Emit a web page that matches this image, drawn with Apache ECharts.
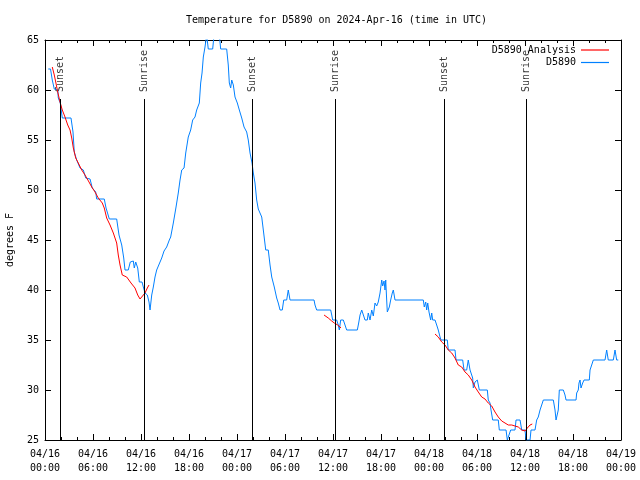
<!DOCTYPE html>
<html>
<head>
<meta charset="utf-8">
<script src="https://cdn.jsdelivr.net/npm/echarts@6/dist/echarts.min.js"></script>
<style>html,body{margin:0;padding:0;background:#fff}#c{width:640px;height:480px}</style>
</head>
<body>
<div id="c"></div>
<script>
// Hours since 2024-04-16 00:00 UTC
var xTickLabels = ['04/16\n00:00','04/16\n06:00','04/16\n12:00','04/16\n18:00','04/17\n00:00','04/17\n06:00','04/17\n12:00','04/17\n18:00','04/18\n00:00','04/18\n06:00','04/18\n12:00','04/18\n18:00','04/19\n00:00'];

// D5890 observations
var obsHours = [0.41,0.69,0.91,1.16,1.59,1.66,1.91,2.16,3.25,3.5,3.66,3.96,4.38,4.79,5.09,5.63,5.91,6.34,6.46,7.41,7.63,8.04,8.96,9.25,9.59,9.84,10.0,10.41,10.66,11.04,11.16,11.34,11.59,11.79,12.13,12.29,12.5,12.79,13.0,13.13,13.34,13.54,13.75,13.96,14.38,14.59,14.88,15.21,15.54,15.71,16.04,16.38,16.66,16.88,17.09,17.38,17.59,17.91,18.21,18.46,18.75,18.96,19.29,19.46,19.63,19.79,20.0,20.21,20.41,20.96,21.13,21.79,21.96,22.71,22.91,23.04,23.21,23.34,23.54,23.75,24.04,24.29,24.59,24.88,25.21,25.41,25.63,25.88,26.04,26.25,26.46,26.66,26.88,27.09,27.29,27.59,27.91,28.13,28.34,28.66,28.96,29.16,29.38,29.66,29.84,30.21,30.41,30.63,33.63,33.75,33.96,35.71,35.84,35.96,36.46,36.66,36.79,36.96,37.29,37.5,37.71,39.04,39.21,39.38,39.59,39.79,40.0,40.29,40.41,40.63,40.84,41.04,41.25,41.46,41.66,41.88,42.09,42.21,42.38,42.5,42.59,42.71,42.79,43.04,43.21,43.41,43.54,43.75,47.29,47.41,47.59,47.71,47.84,48.0,48.21,48.34,48.46,48.75,48.96,49.16,49.38,49.5,50.29,50.41,51.25,51.38,52.21,52.38,52.71,52.91,53.13,53.46,53.54,53.75,54.04,54.29,55.29,55.41,55.63,55.75,55.96,56.66,56.79,57.63,57.79,58.04,58.21,58.75,58.88,59.38,59.59,60.0,60.13,60.63,60.75,61.25,61.46,61.66,61.88,62.09,62.29,63.54,63.75,63.88,64.04,64.16,64.29,64.79,65.0,65.13,66.38,66.46,66.66,66.75,66.88,67.0,67.21,67.38,68.04,68.13,68.34,68.54,70.0,70.21,70.41,71.04,71.25,71.46,71.66];
var obsTemps = [62.1,62.1,61,60.1,60,59.2,58.7,57.2,57.2,55.8,53.8,53,52.2,52,51.2,51.1,50.2,49.8,49.1,49.1,48.2,47.1,47.1,45.5,44.5,43.2,42,42,42.8,42.9,42.2,42.8,42.2,40.8,40.8,40.3,39.7,39.5,38.8,38,39.5,40.3,41.3,42,42.8,43.2,43.9,44.3,45,45.3,46.7,48.3,49.7,51,52,52.2,53.7,55.3,56,57,57.3,58,58.7,60.7,61.7,63.3,64.3,65.5,64.1,64.1,65.5,65.5,64.1,64.1,62.5,60.7,60.2,61,60.5,59.3,58.7,58,57.2,56.3,55.8,55,53.7,52.7,51.7,50.7,49,48.1,48,47.3,46,44,44,42.5,41.3,40.3,39.2,38.7,38,38,39,39,40,39,39,38.5,38,38,37.5,37,37,36.5,36,37,37,36.5,36,36,36.7,37.5,38,38,37,37,37.7,37,38,37.4,38.7,38.4,38.8,39.7,41,40.4,40.9,40,41,39,37.8,38.3,39,39.7,40,39,39,38.3,38.8,38,38.7,37.8,37,37.7,37,37,36.5,36,35.3,35,35,34,34,33,33,32,32,33,32,31.2,30.2,30.8,31,30,30,29,28.7,28,27,27,26,26,25,25,26,26,27,27,26,26,25,25,26,26,27,27.3,28,28,29,29,28,27,27,28,30,30,29.5,29,29,29.7,30,30.7,31,30.2,30.7,31,31,32,32,33,33,34,33,33,34,33,33];

// D5890 Analysis (three segments)
var anaHours1 = [0.91,1.16,1.34,1.59,1.88,2.16,2.5,2.84,3.13,3.34,3.54,3.84,4.16,4.59,5.0,5.5,5.84,6.25,6.66,7.16,7.41,7.71,8.13,8.54,8.96,9.16,9.38,9.66,10.21,10.75,11.25,11.59,11.88,12.09,12.5,12.79,13.0];
var anaTemps1 = [62.3,61.5,60.8,59.8,58.8,58,57.3,56.5,56,55.2,54.2,53.2,52.7,52,51.5,50.8,50.3,49.8,49.2,48.7,48.2,47.2,46.5,45.7,44.7,43.5,42.5,41.5,41.3,40.7,40.2,39.5,39.1,39.1,39.7,40.2,40.5];
var anaHours2 = [34.88,35.41,35.84,36.16,36.59,37.0];
var anaTemps2 = [37.5,37.2,36.9,36.7,36.5,36.2];
var anaHours3 = [48.75,49.16,49.59,50.0,50.41,50.84,51.25,51.66,52.09,52.5,52.91,53.34,53.75,54.16,54.59,55.0,55.41,55.84,56.25,56.66,57.09,57.5,57.91,58.34,58.75,59.16,59.59,60.0,60.29,60.63,60.91];
var anaTemps3 = [35.6,35.3,34.8,34.5,34.0,33.7,33.2,32.5,32.3,31.8,31.5,31.0,30.3,29.8,29.3,29.1,28.7,28.4,27.8,27.3,26.9,26.7,26.5,26.5,26.4,26.3,26.0,25.9,26.2,26.5,26.6];

// Sun events
var sunHours = [1.92,12.42,25.92,36.29,49.92,60.17];
var sunNames = ['Sunset','Sunrise','Sunset','Sunrise','Sunset','Sunrise'];

var FONT = 'DejaVu Sans Mono';
function zip(a,b){return a.map(function(v,i){return [v,b[i]];});}
var anaData = zip(anaHours1,anaTemps1).concat([[null,null]]).concat(zip(anaHours2,anaTemps2)).concat([[null,null]]).concat(zip(anaHours3,anaTemps3));
var obsData = zip(obsHours,obsTemps);
var yMin = 25, yMax = 65, lineTop = 59.1, labelBase = 59.8;

var chart = echarts.init(document.getElementById('c'), null, {renderer:'canvas'});
var axisCommon = {
  type:'value', min:0, max:72, interval:6,
  axisLine:{show:true, onZero:false, lineStyle:{color:'#000', width:1}},
  axisTick:{show:true, inside:true, length:6, lineStyle:{color:'#000'}},
  minorTick:{show:true, splitNumber:3, length:3, lineStyle:{color:'#000'}},
  splitLine:{show:false}, minorSplitLine:{show:false}
};
chart.setOption({
  animation:false,
  backgroundColor:'#fff',
  textStyle:{fontFamily:FONT},
  title:{text:'Temperature for D5890 on 2024-Apr-16 (time in UTC)', left:181, top:10,
    textStyle:{fontFamily:FONT, fontSize:10, fontWeight:'normal', color:'#000'}},
  legend:{orient:'vertical', right:31, top:44, padding:0, align:'right', itemWidth:28, itemHeight:1.2, itemGap:0.5,
    icon:'rect',
    textStyle:{fontFamily:FONT, fontSize:10, color:'#000', lineHeight:12},
    data:['D5890 Analysis','D5890']},
  grid:{left:45, right:19, top:40, bottom:40, containLabel:false, outerBoundsMode:'none'},
  xAxis:[
    Object.assign({}, axisCommon, {position:'bottom',
      axisLabel:{show:true, color:'#000', fontFamily:FONT, fontSize:10, lineHeight:14, margin:7,
        formatter:function(v){return xTickLabels[Math.round(v/6)];}}}),
    Object.assign({}, axisCommon, {position:'top', axisLabel:{show:false}})
  ],
  yAxis:[
    {type:'value', min:yMin, max:yMax, interval:5, position:'left',
     name:'degrees F', nameLocation:'middle', nameGap:30, nameRotate:90,
     nameTextStyle:{fontFamily:FONT, fontSize:10, color:'#000'},
     axisLine:{show:true, onZero:false, lineStyle:{color:'#000'}},
     axisTick:{show:true, inside:true, length:6, lineStyle:{color:'#000'}},
     axisLabel:{color:'#000', fontFamily:FONT, fontSize:10, margin:6},
     splitLine:{show:false}},
    {type:'value', min:yMin, max:yMax, interval:5, position:'right',
     axisLine:{show:true, onZero:false, lineStyle:{color:'#000'}},
     axisTick:{show:true, inside:true, length:6, lineStyle:{color:'#000'}},
     axisLabel:{show:false}, splitLine:{show:false}}
  ],
  series:[
    {name:'sun', type:'scatter', xAxisIndex:0, yAxisIndex:0, symbolSize:1,
     itemStyle:{color:'rgba(0,0,0,0)'},
     data:sunHours.map(function(t,i){return {value:[t,labelBase], name:sunNames[i]};}),
     label:{show:true, position:'inside', rotate:90, align:'left', verticalAlign:'middle',
       formatter:function(p){return p.name;}, fontFamily:FONT, fontSize:10, color:'#000'},
     markLine:{silent:true, symbol:['none','none'], label:{show:false},
       lineStyle:{color:'#000', width:1, type:'solid'},
       data:sunHours.map(function(t){return [{coord:[t,yMin]},{coord:[t,lineTop]}];})},
     z:1},
    {name:'D5890 Analysis', type:'line', xAxisIndex:0, yAxisIndex:0, data:anaData,
     symbol:'none', showSymbol:false, connectNulls:false,
     lineStyle:{color:'#ff0000', width:1}, itemStyle:{color:'#ff0000'}, z:3},
    {name:'D5890', type:'line', xAxisIndex:0, yAxisIndex:0, data:obsData,
     symbol:'none', showSymbol:false,
     lineStyle:{color:'#0080ff', width:1}, itemStyle:{color:'#0080ff'}, z:2}
  ]
});
</script>
</body>
</html>
